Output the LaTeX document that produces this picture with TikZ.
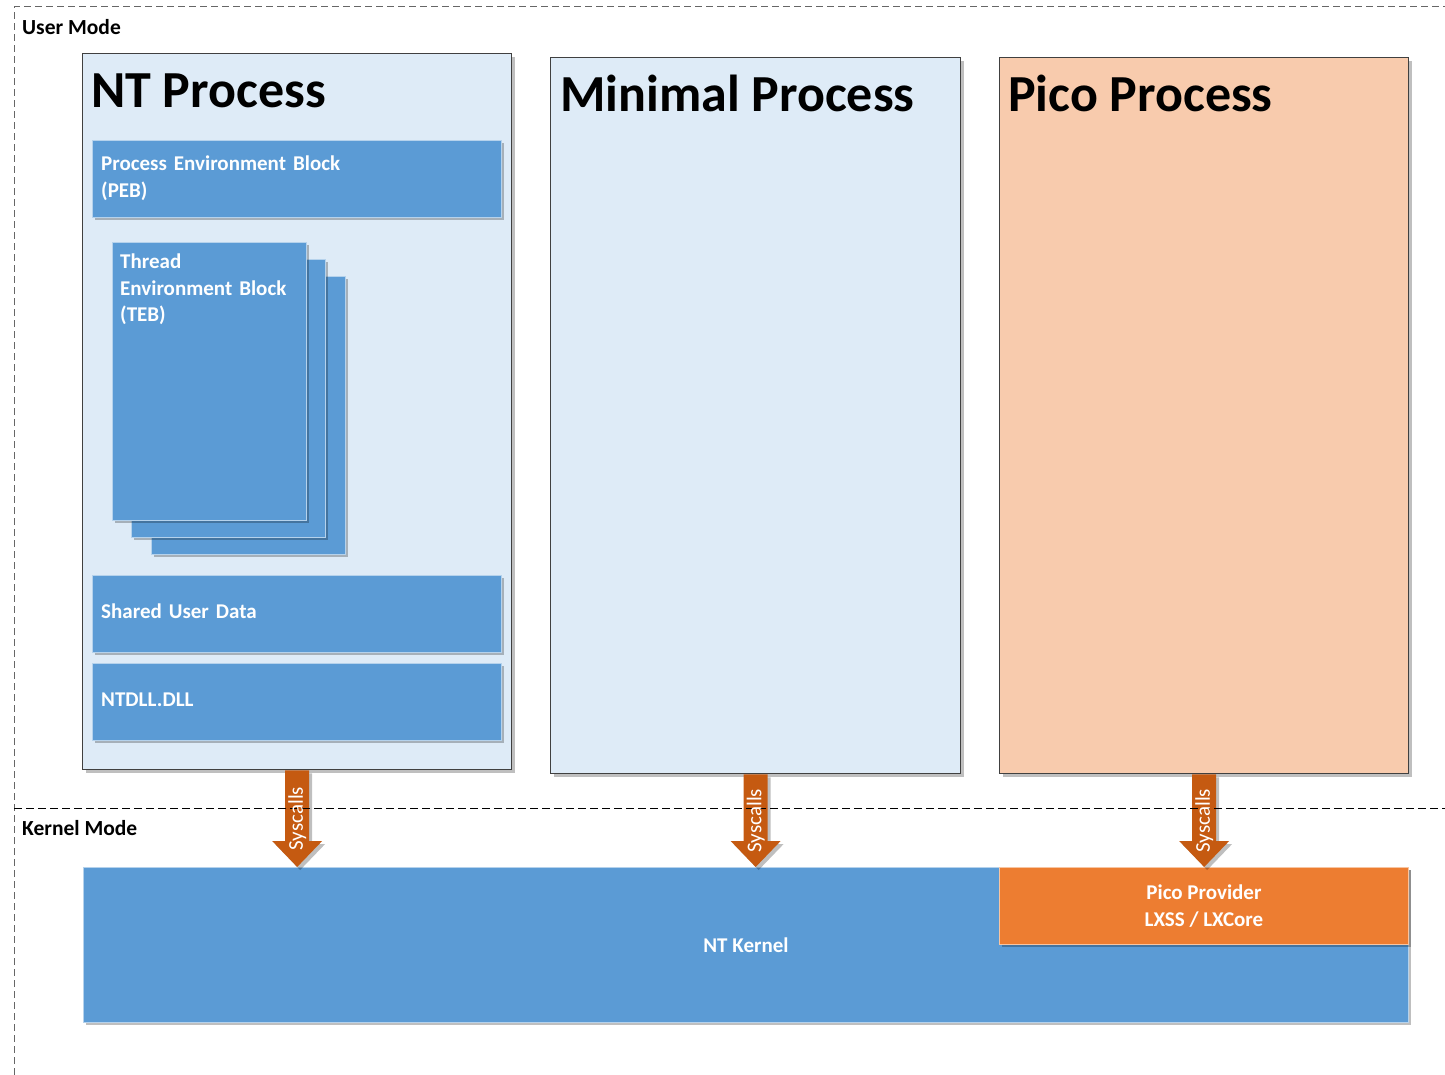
\documentclass[tikz,border=0pt]{standalone}
\usepackage{fontspec}
\setmainfont{Carlito}
\usetikzlibrary{shadows,calc}
\definecolor{lblue}{HTML}{DEEBF7}
\definecolor{mblue}{HTML}{5B9BD5}
\definecolor{peach}{HTML}{F8CBAD}
\definecolor{orng}{HTML}{ED7D31}
\definecolor{dorng}{HTML}{C55A11}
\definecolor{bord}{HTML}{404040}
\begin{document}
\begin{tikzpicture}[x=1pt,y=-1pt,
  shad/.style={drop shadow={shadow xshift=3pt,shadow yshift=-3pt,opacity=0.25,fill=black}},
  procbox/.style={draw=bord,line width=1.3pt,fill=lblue,shad,anchor=north west,inner sep=0},
  bluebox/.style={draw=white!55!mblue,line width=0.9pt,fill=mblue,shad,anchor=north west,inner sep=0},
  title/.style={anchor=base west,inner sep=0,font=\fontsize{52}{60}\selectfont\bfseries},
  intext/.style={anchor=base west,inner sep=0,text=white,text width=390pt,align=left,font=\fontsize{21}{26.5}\selectfont\bfseries},
  modelabel/.style={anchor=base west,inner sep=0,font=\fontsize{21.5}{25}\selectfont\bfseries},
  sysfont/.style={text=white,rotate=90,inner sep=0,font=\fontsize{21}{24}\selectfont}]
\useasboundingbox (0,0) rectangle (1445,1075);

% mode frame
\draw[black!60,line width=1pt,dash pattern=on 7pt off 4pt] (14,1075) -- (14,7) -- (1445,7);
\node[modelabel] (um) at (22,35) {User Mode};
\node[modelabel] (km) at (22,835) {Kernel Mode};

% NT Process
\node[procbox,minimum width=429pt,minimum height=716pt] (nt) at (82,53) {};
\node[title] (ntt) at ($(nt.north west)+(9,55)$) {NT Process};
\node[bluebox,minimum width=409pt,minimum height=77pt] (peb) at (92,140) {};
\node[intext] (pebt) at ($(peb.north west)+(9,31)$) {Process Environment Block\\(PEB)};
\node[bluebox,minimum width=194pt,minimum height=278pt] (teb3) at (151,276) {};
\node[bluebox,minimum width=194pt,minimum height=278pt] (teb2) at (131,259) {};
\node[bluebox,minimum width=194pt,minimum height=278pt] (teb1) at (112,242) {};
\node[intext] (tebt) at ($(teb1.north west)+(8,27)$) {Thread\\Environment Block\\(TEB)};
\node[bluebox,minimum width=409pt,minimum height=77pt] (sud) at (92,575) {};
\node[intext] (sudt) at ($(sud.north west)+(9,43)$) {Shared User Data};
\node[bluebox,minimum width=409pt,minimum height=77pt] (ntdll) at (92,663) {};
\node[intext] (ntdllt) at ($(ntdll.north west)+(9,43)$) {NTDLL.DLL};

% Minimal Process
\node[procbox,minimum width=410pt,minimum height=716pt] (mp) at (550,57) {};
\node[title] (mpt) at ($(mp.north west)+(10,55)$) {Minimal Process};

% Pico Process
\node[procbox,fill=peach,minimum width=409pt,minimum height=716pt] (pp) at (999,57) {};
\node[title] (ppt) at ($(pp.north west)+(9,55)$) {Pico Process};

% Kernel
\node[bluebox,minimum width=1325pt,minimum height=155pt] (kern) at (83,867) {};
\node[inner sep=0,text=white,font=\fontsize{21}{25}\selectfont\bfseries] (kernt) at (kern.center) {NT Kernel};
\node[bluebox,fill=orng,draw=white!55!orng,minimum width=409pt,minimum height=77pt] (prov) at (999,867) {};
\node[inner sep=0,text=white,align=center,font=\fontsize{21}{27}\selectfont\bfseries] (provt) at (prov.center) {Pico Provider\\LXSS / LXCore};

% Syscall arrows
\newcommand\sysarrow[2]{%
  \path (#1.south) coordinate (#2s) (#1.south |- kern.north) coordinate (#2t);
  \fill[dorng,shad] ($(#2s)+(-12,0)$) -- ($(#2t)+(-12,-26)$) -- ($(#2t)+(-25,-26)$) -- (#2t)
     -- ($(#2t)+(25,-26)$) -- ($(#2t)+(12,-26)$) -- ($(#2s)+(12,0)$) -- cycle;
}
\sysarrow{nt}{a}
\sysarrow{mp}{b}
\sysarrow{pp}{c}

% separator
\draw[black,line width=1pt,dash pattern=on 8pt off 4pt] (14,808) -- (1445,808);

\node[sysfont] (sa) at ($(as)!0.5!(at)$) {Syscalls};
\node[sysfont] (sb) at ($(bs)!0.5!(bt)$) {Syscalls};
\node[sysfont] (sc) at ($(cs)!0.5!(ct)$) {Syscalls};
\end{tikzpicture}
\end{document}
